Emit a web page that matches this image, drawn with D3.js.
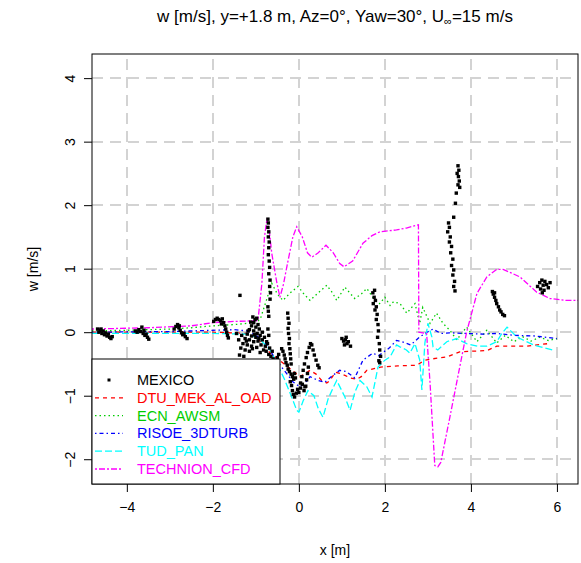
<!DOCTYPE html>
<html>
<head>
<meta charset="utf-8">
<script src="https://cdn.jsdelivr.net/npm/d3@7/dist/d3.min.js"></script>
<style>
  html, body { margin: 0; padding: 0; background: #fff; }
  svg { display: block; font-family: "Liberation Sans", Arial, sans-serif; }
</style>
</head>
<body>
<svg id="chart" width="581" height="563"></svg>
<script>
// ---------------- data ----------------
const xTicks = [-4, -2, 0, 2, 4, 6];
const yTicks = [-2, -1, 0, 1, 2, 3, 4];
const xDomain = [-4.81, 6.49];
const yDomain = [-2.39, 4.38];

const seriesNames = ["MEXICO", "DTU_MEK_AL_OAD", "ECN_AWSM", "RISOE_3DTURB", "TUD_PAN", "TECHNION_CFD"];
const seriesColors = ["#000000", "#FF0000", "#00CD00", "#0000FF", "#00FFFF", "#FF00FF"];
const seriesDashes = [null, "4,4", "1.5,3", "1.5,3,4,3", "7,3", "2,2,6,2"];

const mexico = [
  [-4.68,0.05],[-4.65,0.0],[-4.62,0.03],[-4.58,-0.02],[-4.55,0.02],[-4.52,-0.04],[-4.49,-0.01],[-4.46,-0.06],[-4.43,-0.03],[-4.40,-0.08],[-4.37,-0.10],[-4.34,-0.07],[-4.60,0.05],
  [-3.80,0.02],[-3.76,0.0],[-3.72,0.04],[-3.68,0.01],[-3.65,0.08],[-3.62,-0.02],[-3.58,-0.05],[-3.55,-0.03],[-3.52,-0.08],[-3.49,-0.11],[-3.60,0.03],
  [-2.90,0.05],[-2.86,0.09],[-2.82,0.12],[-2.79,0.07],[-2.76,0.03],[-2.73,-0.01],[-2.70,-0.04],[-2.67,-0.02],[-2.64,-0.07],[-2.60,-0.10],[-2.78,0.10],
  [-1.98,0.17],[-1.94,0.20],[-1.90,0.22],[-1.86,0.20],[-1.82,0.18],[-1.78,0.21],[-1.75,0.15],[-1.72,0.10],[-1.70,0.05],[-1.68,0.0],[-1.66,-0.05],[-1.64,-0.09],[-1.80,0.13],
  [-1.37,0.58],
  [-1.07,0.24],[-1.02,0.20],[-0.98,0.22],[-1.05,0.15],[-0.95,0.12],[-1.10,0.10],[-1.00,0.08],[-0.92,0.05],[-1.15,0.04],[-1.05,0.02],[-0.97,-0.02],[-1.20,-0.03],
  [-1.10,-0.06],[-1.00,-0.08],[-0.90,-0.05],[-1.25,-0.10],[-1.15,-0.12],[-1.05,-0.15],[-0.95,-0.14],[-0.85,-0.12],[-1.30,-0.18],[-1.20,-0.20],[-1.10,-0.22],
  [-0.98,-0.24],[-0.88,-0.20],[-1.35,-0.25],[-1.25,-0.28],[-1.15,-0.30],[-1.38,-0.36],[-1.28,-0.38],[-0.82,-0.28],[-0.76,-0.30],[-0.70,-0.35],[-0.65,-0.38],
  [-0.60,-0.42],[-0.55,-0.45],[-0.78,-0.22],[-0.90,-0.32],[-1.33,-0.05],[-1.40,-0.12],[-1.45,-0.02],[-1.18,0.02],[-0.85,0.0],[-0.80,-0.08],[-0.75,-0.15],
  [-1.12,0.16],[-1.03,-0.04],[-0.93,-0.10],[-1.22,-0.14],[-1.08,-0.26],[-0.68,-0.25],[-0.62,-0.30],[-0.50,-0.40],[-0.47,-0.35],
  [-0.72,1.78],[-0.71,1.72],[-0.72,1.65],[-0.70,1.58],[-0.71,1.50],[-0.69,1.42],[-0.70,1.33],[-0.71,1.22],[-0.69,1.12],[-0.68,1.02],[-0.70,0.92],
  [-0.67,0.82],[-0.68,0.72],[-0.66,0.62],[-0.67,0.52],[-0.72,0.40],[-0.71,0.33],[-0.70,0.25],[-0.72,0.05],[-0.70,-0.05],[-0.73,-0.18],
  [-0.26,0.30],[-0.25,0.22],[-0.23,0.14],[-0.25,0.06],[-0.24,-0.02],[-0.22,-0.10],[-0.23,-0.18],[-0.21,-0.26],[-0.20,-0.34],[-0.19,-0.42],[-0.18,-0.50],
  [-0.40,-0.26],[-0.37,-0.30],[-0.34,-0.36],[-0.32,-0.42],[-0.30,-0.48],[-0.27,-0.52],[-0.25,-0.58],[-0.22,-0.62],[-0.18,-0.66],[-0.15,-0.70],[-0.12,-0.74],[-0.10,-0.65],[-0.08,-0.72],
  [-0.20,-0.78],[-0.17,-0.84],[-0.15,-0.92],[-0.13,-0.98],[-0.10,-1.02],[-0.06,-0.96],[-0.03,-0.90],[0.0,-0.95],[0.04,-0.88],[0.08,-0.82],[0.12,-0.92],[0.14,-0.86],
  [0.04,-0.80],[0.07,-0.70],[0.10,-0.60],[0.13,-0.50],[0.17,-0.40],[0.20,-0.32],[0.24,-0.24],[0.27,-0.18],[0.30,-0.20],[0.33,-0.28],[0.36,-0.36],[0.40,-0.44],[0.44,-0.52],[0.47,-0.56],
  [0.16,-0.85],[0.18,-0.75],[0.20,-0.65],[0.22,-0.55],
  [1.00,-0.10],[1.04,-0.14],[1.08,-0.12],[1.12,-0.18],[1.06,-0.20],[1.15,-0.15],[1.20,-0.22],[1.10,-0.08],
  [1.72,0.62],[1.76,0.66],[1.75,0.55],[1.78,0.50],[1.73,0.45],[1.80,0.40],[1.77,0.35],[1.82,0.28],[1.80,0.20],[1.84,0.12],[1.85,0.02],[1.83,-0.08],[1.87,-0.18],[1.88,-0.28],[1.90,-0.38],[1.88,-0.48],[1.86,-0.45],
  [3.70,2.62],[3.72,2.55],[3.68,2.50],[3.71,2.45],[3.73,2.38],[3.70,2.32],[3.74,2.28],[3.66,2.19],[3.64,2.03],[3.60,1.81],
  [3.48,1.72],[3.50,1.65],[3.46,1.58],[3.52,1.50],[3.50,1.42],[3.55,1.35],[3.53,1.25],[3.58,1.15],[3.55,1.05],[3.60,0.98],[3.58,0.90],[3.62,0.80],[3.60,0.72],[3.63,0.65],
  [4.50,0.64],[4.52,0.60],[4.55,0.55],[4.58,0.50],[4.60,0.45],[4.64,0.40],[4.67,0.35],[4.70,0.32],[4.74,0.28],[4.78,0.26],[4.55,0.62],
  [5.55,0.72],[5.60,0.78],[5.62,0.68],[5.65,0.82],[5.68,0.74],[5.70,0.66],[5.72,0.80],[5.76,0.75],[5.80,0.70],[5.84,0.78],[5.66,0.62]
];

const dtu = [[-4.81,0.0],[-3.0,0.0],[-2.0,0.0],[-1.2,-0.02],[-1.0,-0.08],[-0.8,-0.2],[-0.67,-0.33],[-0.5,-0.42],[-0.3,-0.52],[-0.1,-0.63],[0.02,-0.7],[0.15,-0.65],[0.26,-0.6],[0.4,-0.66],[0.53,-0.76],[0.65,-0.8],[0.72,-0.76],[0.85,-0.63],[0.95,-0.65],[1.07,-0.68],[1.2,-0.72],[1.35,-0.74],[1.45,-0.7],[1.58,-0.6],[1.9,-0.55],[2.3,-0.53],[2.74,-0.52],[2.93,-0.44],[3.1,-0.42],[3.44,-0.39],[3.74,-0.31],[4.0,-0.3],[4.37,-0.29],[4.6,-0.22],[5.3,-0.22],[5.65,-0.19],[5.8,-0.18]];

const ecn = [[-4.81,0.02],[-4.0,0.03],[-3.0,0.05],[-2.5,0.07],[-2.0,0.1],[-1.5,0.12],[-1.2,0.14],[-1.0,0.16],[-0.9,0.2],[-0.78,0.45],[-0.63,0.77],[-0.5,0.6],[-0.37,0.5],[-0.2,0.62],[-0.02,0.72],[0.12,0.6],[0.26,0.5],[0.45,0.62],[0.65,0.74],[0.78,0.62],[0.88,0.5],[1.07,0.71],[1.18,0.62],[1.3,0.53],[1.45,0.6],[1.58,0.69],[1.72,0.55],[1.88,0.45],[2.0,0.55],[2.12,0.42],[2.2,0.48],[2.35,0.45],[2.51,0.3],[2.7,0.45],[2.81,0.14],[2.88,0.39],[3.05,0.14],[3.2,0.3],[3.35,0.14],[3.51,0.03],[3.67,-0.12],[3.9,0.08],[4.14,-0.15],[4.37,0.03],[4.6,-0.17],[4.8,-0.05],[5.0,-0.15],[5.2,-0.07],[5.4,-0.14],[5.6,-0.08],[5.8,-0.13],[6.0,-0.1]];

const risoe = [[-4.81,0.0],[-3.0,0.01],[-2.0,0.03],[-1.5,0.04],[-1.2,0.02],[-1.0,-0.05],[-0.85,-0.12],[-0.7,-0.25],[-0.55,-0.42],[-0.4,-0.55],[-0.25,-0.68],[-0.14,-0.78],[0.02,-0.86],[0.15,-0.8],[0.26,-0.7],[0.45,-0.76],[0.6,-0.79],[0.75,-0.7],[0.95,-0.6],[1.1,-0.62],[1.3,-0.72],[1.49,-0.44],[1.72,-0.33],[1.85,-0.37],[2.1,-0.25],[2.27,-0.13],[2.4,-0.15],[2.6,-0.2],[2.8,-0.08],[2.98,0.0],[3.12,0.05],[3.3,-0.02],[3.5,-0.01],[3.9,-0.02],[4.3,-0.03],[4.6,-0.02],[5.0,-0.05],[5.5,-0.06],[6.0,-0.1]];

const tud = [[-4.81,-0.02],[-3.0,-0.02],[-2.0,-0.02],[-1.2,-0.03],[-1.0,-0.08],[-0.85,-0.15],[-0.67,-0.28],[-0.5,-0.5],[-0.33,-0.75],[-0.18,-1.0],[-0.05,-1.23],[0.0,-1.26],[0.1,-1.08],[0.21,-0.92],[0.35,-1.0],[0.45,-1.2],[0.56,-1.34],[0.68,-1.05],[0.8,-0.87],[0.88,-0.76],[1.07,-1.02],[1.19,-1.23],[1.3,-0.95],[1.42,-0.76],[1.58,-0.86],[1.7,-1.02],[1.84,-0.55],[2.0,-0.44],[2.12,-0.39],[2.27,-0.2],[2.35,-0.23],[2.5,-0.28],[2.58,-0.33],[2.7,-0.18],[2.81,-0.44],[2.86,-0.91],[2.93,-0.17],[3.0,0.14],[3.09,-0.07],[3.12,-0.23],[3.23,-0.28],[3.44,-0.15],[3.67,-0.1],[3.9,-0.18],[4.15,-0.22],[4.37,-0.22],[4.6,-0.15],[4.72,-0.02],[4.84,0.08],[5.0,-0.03],[5.14,-0.1],[5.45,-0.2],[5.9,-0.28]];

const technion = [[-4.81,0.05],[-3.5,0.07],[-2.5,0.1],[-2.0,0.15],[-1.5,0.17],[-1.0,0.18],[-0.95,0.19],[-0.86,0.77],[-0.8,1.5],[-0.74,1.79],[-0.68,1.55],[-0.63,1.24],[-0.51,0.77],[-0.44,0.55],[-0.36,0.75],[-0.28,1.03],[-0.14,1.5],[-0.05,1.66],[0.08,1.5],[0.2,1.25],[0.3,1.18],[0.45,1.25],[0.63,1.37],[0.8,1.25],[0.95,1.08],[1.05,1.03],[1.25,1.12],[1.49,1.4],[1.7,1.52],[1.88,1.58],[2.27,1.61],[2.5,1.64],[2.78,1.69],[2.79,0.0],[2.97,-0.02],[3.05,-0.8],[3.16,-2.1],[3.23,-2.12],[3.3,-2.05],[3.51,-1.34],[3.74,-0.55],[3.9,0.0],[4.14,0.61],[4.37,0.87],[4.6,0.99],[4.75,0.99],[5.14,0.87],[5.53,0.63],[5.84,0.53],[6.2,0.5],[6.49,0.5]];

const lineSeries = [dtu, ecn, risoe, tud, technion];

// ---------------- drawing ----------------
const svg = d3.select("#chart");
const L = 92, R = 578, T = 54, B = 484;
const x = d3.scaleLinear().domain(xDomain).range([L, R]);
const y = d3.scaleLinear().domain(yDomain).range([B, T]);
const font = "'Liberation Sans', Arial, sans-serif";

svg.append("defs").append("clipPath").attr("id", "clip")
  .append("rect").attr("x", L).attr("y", T).attr("width", R - L).attr("height", B - T);

// grid
const grid = svg.append("g").attr("stroke", "#D3D3D3").attr("stroke-width", 2).attr("stroke-dasharray", "11,7")
  .attr("shape-rendering", "crispEdges");
grid.selectAll("line.v").data(xTicks).join("line").attr("class", "v")
  .attr("x1", d => Math.round(x(d))).attr("x2", d => Math.round(x(d))).attr("y1", B).attr("y2", T);
grid.selectAll("line.h").data(yTicks).join("line").attr("class", "h")
  .attr("y1", d => Math.round(y(d))).attr("y2", d => Math.round(y(d))).attr("x1", L).attr("x2", R);

// lines
const plot = svg.append("g").attr("clip-path", "url(#clip)");
const line = d3.line().x(d => x(d[0])).y(d => y(d[1]));
lineSeries.forEach((s, i) => {
  plot.append("path").datum(s).attr("d", line)
    .attr("fill", "none").attr("stroke", seriesColors[i + 1]).attr("stroke-width", 1.3)
    .attr("stroke-dasharray", seriesDashes[i + 1]);
});

// points
plot.append("g").selectAll("rect").data(mexico).join("rect")
  .attr("x", d => x(d[0]) - 1.7).attr("y", d => y(d[1]) - 1.7).attr("width", 3.4).attr("height", 3.4)
  .attr("fill", "#000");

// axes
const xAxis = d3.axisBottom(x).tickValues(xTicks).tickSize(8).tickPadding(10).tickFormat(d3.format("d"));
const gx = svg.append("g").attr("transform", `translate(0,${B})`).call(xAxis);
gx.select(".domain").remove();
gx.selectAll("text").attr("font-size", 14).attr("font-family", font).attr("fill", "#000");
gx.selectAll("line").attr("stroke", "#000");

const yAxis = d3.axisLeft(y).tickValues(yTicks).tickSize(8).tickFormat(d3.format("d"));
const gy = svg.append("g").attr("transform", `translate(${L},0)`).call(yAxis);
gy.select(".domain").remove();
gy.selectAll("line").attr("stroke", "#000");
gy.selectAll("text").attr("font-size", 14).attr("font-family", font).attr("fill", "#000")
  .attr("x", 0).attr("dy", null).attr("text-anchor", "middle")
  .attr("transform", "translate(-22,0) rotate(-90)").attr("y", 5);

// box
svg.append("rect").attr("x", L).attr("y", T).attr("width", R - L).attr("height", B - T)
  .attr("fill", "none").attr("stroke", "#000").attr("stroke-width", 1);

// legend
const lg = svg.append("g");
const lgL = L, lgT = 359, lgR = 280;
lg.append("rect").attr("x", lgL).attr("y", lgT).attr("width", lgR - lgL).attr("height", B - lgT)
  .attr("fill", "#fff").attr("stroke", "#000").attr("stroke-width", 1);
seriesNames.forEach((name, i) => {
  const yy = 380 + i * 17.8;
  if (i === 0) {
    lg.append("rect").attr("x", 107.5).attr("y", yy - 1.5).attr("width", 3).attr("height", 3).attr("fill", "#000");
  } else {
    lg.append("line").attr("x1", 95).attr("x2", 123).attr("y1", yy).attr("y2", yy)
      .attr("stroke", seriesColors[i]).attr("stroke-width", 1.3).attr("stroke-dasharray", seriesDashes[i]);
  }
  lg.append("text").attr("x", 137).attr("y", yy + 5).attr("font-size", 14.5).attr("font-family", font)
    .attr("fill", seriesColors[i]).text(name);
});

// title
const title = svg.append("text").attr("x", 335).attr("y", 22).attr("text-anchor", "middle")
  .attr("font-size", 17).attr("font-family", font).attr("fill", "#000");
title.append("tspan").text("w [m/s], y=+1.8 m, Az=0°, Yaw=30°, U");
title.append("tspan").attr("font-size", 11).attr("dy", 3).text("∞");
title.append("tspan").attr("dy", -3).text("=15 m/s");

// axis labels
svg.append("text").attr("x", 335).attr("y", 555).attr("text-anchor", "middle")
  .attr("font-size", 14).attr("font-family", font).text("x [m]");
svg.append("text").attr("transform", `translate(38,${(T + B) / 2}) rotate(-90)`).attr("text-anchor", "middle")
  .attr("font-size", 14).attr("font-family", font).text("w [m/s]");
</script>
</body>
</html>
